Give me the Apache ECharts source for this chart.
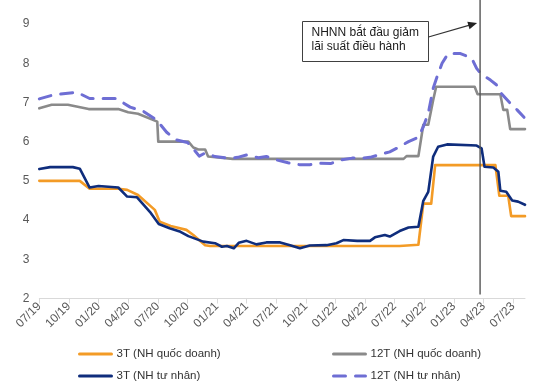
<!DOCTYPE html>
<html>
<head>
<meta charset="utf-8">
<script src="https://cdn.jsdelivr.net/npm/echarts@6/dist/echarts.min.js"></script>
<style>
html,body{margin:0;padding:0;background:#fff;}
#chart{width:537px;height:382px;}
</style>
</head>
<body>
<div id="chart"></div>
<script>
// x values = months since 07/2019
const tickLabels = ["07/19","10/19","01/20","04/20","07/20","10/20","01/21","04/21","07/21","10/21","01/22","04/22","07/22","10/22","01/23","04/23","07/23"];
const tickMonths = [0,3,6,9,12,15,18,21,24,27,30,33,36,39,42,45,48];
const seriesNames = ["3T (NH quốc doanh)","12T (NH quốc doanh)","3T (NH tư nhân)","12T (NH tư nhân)"];
const cutMonth = 44.65; // NHNN bắt đầu giảm lãi suất điều hành
const annotationLines = ["NHNN bắt đầu giảm","lãi suất điều hành"];

const t3State = [[0,5.0],[4.1,5.0],[5.1,4.8],[8.0,4.8],[8.9,4.77],[10.0,4.64],[11.7,4.26],[12.2,3.96],[13.3,3.85],[14.9,3.75],[15.6,3.62],[16.8,3.36],[17.3,3.34],[36.5,3.34],[36.7,3.37],[38.4,3.37],[38.9,4.42],[39.7,4.42],[40.1,5.4],[46.2,5.4],[46.6,4.62],[47.5,4.62],[47.8,4.1],[49.2,4.1]];
const t12State = [[0,6.85],[1.25,6.94],[2.9,6.94],[5.0,6.83],[8.0,6.83],[9.0,6.75],[10.0,6.71],[11.95,6.51],[12.05,6.0],[15.1,6.0],[15.6,5.85],[16.1,5.8],[16.8,5.8],[17.1,5.62],[19.6,5.56],[36.9,5.56],[37.2,5.63],[38.4,5.63],[38.9,6.43],[39.4,6.43],[39.9,7.06],[40.2,7.4],[44.1,7.4],[44.4,7.21],[46.7,7.21],[47.0,6.81],[47.4,6.81],[47.7,6.32],[49.2,6.32]];
const t3Private = [[0,5.3],[1.1,5.35],[3.4,5.35],[4.1,5.31],[5.1,4.83],[6.0,4.87],[8.0,4.83],[8.9,4.6],[9.9,4.58],[11.2,4.21],[12.1,3.9],[13.2,3.79],[14.3,3.7],[15.1,3.59],[16.6,3.45],[17.8,3.41],[18.5,3.32],[19.0,3.34],[19.7,3.28],[20.2,3.42],[21.0,3.47],[22.0,3.38],[23.0,3.43],[24.4,3.43],[25.4,3.36],[26.4,3.28],[27.4,3.35],[29.1,3.36],[30.1,3.41],[30.8,3.49],[32.2,3.47],[33.5,3.47],[34.0,3.56],[35.0,3.62],[35.5,3.58],[36.5,3.72],[37.4,3.81],[38.4,3.83],[38.9,4.49],[39.4,4.72],[39.9,5.62],[40.4,5.87],[41.3,5.93],[44.3,5.9],[44.8,5.83],[45.1,5.36],[46.0,5.34],[46.5,5.23],[46.7,4.75],[47.3,4.72],[47.9,4.5],[48.5,4.47],[49.2,4.39]];
const t12Private = [[0,7.09],[1.4,7.19],[3.8,7.26],[5.1,7.1],[7.8,7.1],[9.2,6.88],[10.5,6.78],[11.9,6.55],[12.9,6.24],[13.8,6.05],[15.0,5.98],[15.5,5.85],[16.2,5.63],[16.8,5.71],[17.8,5.62],[19.3,5.57],[20.1,5.6],[21.0,5.66],[22.2,5.59],[23.0,5.62],[24.1,5.53],[25.2,5.46],[26.4,5.41],[27.4,5.41],[28.4,5.45],[29.5,5.44],[30.5,5.53],[31.7,5.58],[32.7,5.58],[33.5,5.6],[34.9,5.7],[35.5,5.74],[36.2,5.83],[37.4,6.0],[38.4,6.11],[38.9,6.38],[39.4,6.72],[39.9,7.36],[40.3,7.66],[40.8,8.0],[41.4,8.24],[42.6,8.25],[43.8,8.13],[44.3,7.87],[44.7,7.74],[45.7,7.57],[46.3,7.45],[46.8,7.23],[47.7,6.98],[48.4,6.81],[49.1,6.62]];

const colors = ["#F39B26","#8A8A8A","#0F2D7C","#6E6ED4"];
const FONT = "Liberation Sans, Arial, sans-serif";

const chart = echarts.init(document.getElementById('chart'), null, {renderer:'canvas'});

function lineSeries(name, data, color, extra) {
  return Object.assign({
    name: name, type: 'line', data: data, symbol: 'none', smooth: false,
    lineStyle: {color: color, width: 2.6, cap: 'round', join: 'round'},
    itemStyle: {color: color},
    animation: false
  }, extra || {});
}

function legendFor(name, left, top) {
  return {
    data: [name], orient: 'horizontal', left: left, top: top,
    itemWidth: 32, itemHeight: 14, itemGap: 0,
    itemStyle: {opacity: 0},
    lineStyle: {width: 3},
    textStyle: {fontSize: 11.5, color: '#333', fontFamily: FONT},
    selectedMode: false
  };
}

chart.setOption({
  animation: false,
  grid: {left: 39.3, right: 12, top: 24, bottom: 83.5},
  xAxis: {
    type: 'value', min: 0, max: 49.2, interval: 3,
    splitLine: {show: false},
    axisLine: {show: true, lineStyle: {color: '#d9d9d9', width: 1}},
    axisTick: {show: true, length: 5, lineStyle: {color: '#d9d9d9'}, customValues: tickMonths},
    axisLabel: {
      customValues: tickMonths,
      rotate: 45, fontSize: 12, color: '#595959', fontFamily: FONT, margin: 6,
      formatter: function (v) { const i = tickMonths.indexOf(Math.round(v)); return i >= 0 ? tickLabels[i] : ''; }
    }
  },
  yAxis: {
    type: 'value', min: 2, max: 9, interval: 1,
    splitLine: {show: false},
    axisLine: {show: false}, axisTick: {show: false},
    axisLabel: {fontSize: 12, color: '#595959', fontFamily: FONT, margin: 10}
  },
  legend: [
    legendFor(seriesNames[0], 73, 343),
    legendFor(seriesNames[2], 73, 365),
    legendFor(seriesNames[1], 327, 343),
    legendFor(seriesNames[3], 327, 365)
  ],
  series: [
    lineSeries(seriesNames[0], t3State, colors[0], {z: 2}),
    lineSeries(seriesNames[1], t12State, colors[1], {z: 2}),
    lineSeries(seriesNames[2], t3Private, colors[2], {z: 3}),
    lineSeries(seriesNames[3], t12Private, colors[3], {z: 3, lineStyle: {color: colors[3], width: 3, type: [12, 10], cap: 'round', join: 'round'}})
  ]
});

const px = chart.convertToPixel({xAxisIndex: 0}, cutMonth);
const yBottom = chart.convertToPixel({yAxisIndex: 0}, 2) - 4;
const boxL = 302.5, boxT = 21.5, boxW = 126, boxH = 40;
const arrStart = [boxL + boxW, 37], arrEnd = [px - 3, 23];
const ang = Math.atan2(arrEnd[1] - arrStart[1], arrEnd[0] - arrStart[0]);
const hl = 9, hw = 4;
const head = [
  arrEnd,
  [arrEnd[0] - hl*Math.cos(ang) + hw*Math.sin(ang), arrEnd[1] - hl*Math.sin(ang) - hw*Math.cos(ang)],
  [arrEnd[0] - hl*Math.cos(ang) - hw*Math.sin(ang), arrEnd[1] - hl*Math.sin(ang) + hw*Math.cos(ang)]
];

chart.setOption({
  graphic: [
    {type: 'line', z: 100, shape: {x1: px, y1: 0, x2: px, y2: yBottom}, style: {stroke: '#555', lineWidth: 1.4}},
    {type: 'rect', z: 101, shape: {x: boxL, y: boxT, width: boxW, height: boxH}, style: {fill: '#fff', stroke: '#404040', lineWidth: 1}},
    {type: 'text', z: 102, x: boxL + 9, y: 33, style: {text: annotationLines[0], font: '12px ' + FONT, fill: '#1a1a1a', textVerticalAlign: 'middle'}},
    {type: 'text', z: 102, x: boxL + 9, y: 47, style: {text: annotationLines[1], font: '12px ' + FONT, fill: '#1a1a1a', textVerticalAlign: 'middle'}},
    {type: 'line', z: 101, shape: {x1: arrStart[0], y1: arrStart[1], x2: arrEnd[0] - 6*Math.cos(ang), y2: arrEnd[1] - 6*Math.sin(ang)}, style: {stroke: '#333', lineWidth: 1.2}},
    {type: 'polygon', z: 101, shape: {points: head}, style: {fill: '#222'}}
  ]
});
</script>
</body>
</html>
